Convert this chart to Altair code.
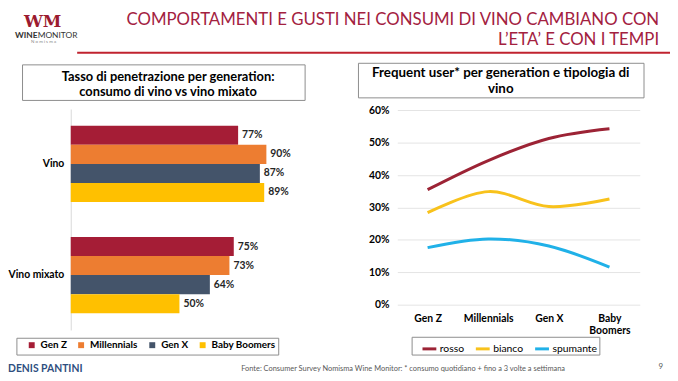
import altair as alt
import pandas as pd

# ---------------- data ----------------
bar_categories = ["Vino", "Vino mixato"]
generations = ["Gen Z", "Millennials", "Gen X", "Baby Boomers"]
vino_values = [0.77, 0.90, 0.87, 0.89]
vino_mixato_values = [0.75, 0.73, 0.64, 0.50]

wine_types = ["rosso", "bianco", "spumante"]
rosso_values = [0.355, 0.445, 0.513, 0.543]
bianco_values = [0.284, 0.349, 0.303, 0.326]
spumante_values = [0.176, 0.203, 0.181, 0.116]
line_y_ticks = [0.0, 0.1, 0.2, 0.3, 0.4, 0.5, 0.6]

bar_colors = ["#a51d36", "#ed7d31", "#44546a", "#ffc000"]
line_colors = ["#9c2335", "#f8c21c", "#20b1e8"]

FONT = "Lato"
TITLE_RED = "#a3213f"

bar_df = pd.DataFrame({
    "category": [c for c in bar_categories for _ in generations],
    "generation": generations * 2,
    "value": vino_values + vino_mixato_values,
})
line_df = pd.DataFrame({
    "generation": generations * 3,
    "type": [t for t in wine_types for _ in generations],
    "value": rosso_values + bianco_values + spumante_values,
})

one = alt.Data(values=[{}])

# ---------------- bar chart ----------------
bar_base = alt.Chart(bar_df).encode(
    x=alt.X("value:Q", scale=alt.Scale(domain=[0, 1], range=[63.5, 283.5]), axis=None),
    y=alt.Y(
        "category:N", sort=bar_categories,
        scale=alt.Scale(range=[100, 323.6], paddingInner=0.316, paddingOuter=0.151),
        axis=alt.Axis(title=None, orient="left", offset=-63.5, domainColor="#d9d9d9",
                      domainWidth=1, ticks=False, grid=False, labelFont=FONT,
                      labelFontSize=10.5, labelFontWeight="bold", labelColor="#000000",
                      labelPadding=7),
    ),
    yOffset=alt.YOffset("generation:N", sort=generations),
)
bars = bar_base.mark_bar().encode(
    color=alt.Color(
        "generation:N", sort=generations,
        scale=alt.Scale(domain=generations, range=bar_colors),
        legend=alt.Legend(title=None, orient="none", legendX=19, legendY=334,
                          direction="horizontal", columns=4, symbolType="square",
                          symbolSize=36, symbolStrokeWidth=0, labelFont=FONT,
                          labelFontSize=10, labelFontWeight="bold", labelColor="#000000",
                          labelOffset=4, columnPadding=9, padding=0),
    )
)
bar_labels = bar_base.mark_text(
    align="left", baseline="middle", dx=4, font=FONT, fontSize=10.5,
    fontWeight="bold", color="#262626"
).encode(text=alt.Text("value:Q", format=".0%"))
bar_layer = alt.layer(bars, bar_labels)

# ---------------- line chart ----------------
lines = alt.Chart(line_df).mark_line(interpolate="cardinal", strokeWidth=3).encode(
    x=alt.X(
        "generation:N", sort=generations,
        scale=alt.Scale(type="point", range=[394, 639.4], padding=0.5),
        axis=alt.Axis(title=None, orient="bottom", offset=-75, labelAngle=0, domain=False,
                      ticks=False, grid=False, labelFont=FONT, labelFontSize=10.5,
                      labelFontWeight="bold", labelColor="#000000", labelPadding=9,
                      labelLineHeight=12,
                      labelExpr="datum.label == 'Baby Boomers' ? ['Baby', 'Boomers'] : datum.label"),
    ),
    y=alt.Y(
        "value:Q",
        scale=alt.Scale(domain=[0, 0.6], range=[298, 101.3]),
        axis=alt.Axis(title=None, orient="left", offset=-393.7, values=line_y_ticks,
                      format=".0%", domain=False, ticks=False, grid=True,
                      gridColor="#e4e4e4", gridWidth=1, labelFont=FONT,
                      labelFontSize=10.5, labelFontWeight="bold", labelColor="#000000",
                      labelPadding=8),
    ),
    color=alt.Color(
        "type:N", sort=wine_types,
        scale=alt.Scale(domain=wine_types, range=line_colors),
        legend=alt.Legend(title=None, orient="none", legendX=418, legendY=334,
                          direction="horizontal", columns=3, symbolType="stroke",
                          symbolSize=196, symbolStrokeWidth=3, labelFont=FONT,
                          labelFontSize=10.5, labelColor="#000000", labelOffset=2,
                          columnPadding=5, padding=0),
    ),
)


# ---------------- decorations ----------------
def box(x1, x2, y1, y2, stroke="#8c8c8c"):
    return alt.Chart(one).mark_rect(fill="white", stroke=stroke, strokeWidth=1).encode(
        x=alt.value(x1), x2=alt.value(x2), y=alt.value(y1), y2=alt.value(y2))


def label(text, x, y, size, color="#000000", weight="normal", align="center", font=FONT):
    return alt.Chart(one).mark_text(
        text=text, align=align, baseline="middle", fontSize=size, fontWeight=weight,
        color=color, font=font).encode(x=alt.value(x), y=alt.value(y))


decor = [
    box(14.7, 300.7, 55.3, 91.3),
    box(354.7, 643.7, 53.7, 88.7),
    box(9, 274, 332, 349),
    box(409, 599, 331, 349),
    alt.Chart(one).mark_rule(color="#c0232f", strokeWidth=2).encode(
        x=alt.value(70), x2=alt.value(670), y=alt.value(43)),
    label("COMPORTAMENTI E GUSTI NEI CONSUMI DI VINO CAMBIANO CON", 659, 9.5, 17,
          TITLE_RED, "normal", "right"),
    label("L\u2019ETA\u2019 E CON I TEMPI", 659, 30, 17, TITLE_RED, "normal", "right"),
    label("WM", 35, 12, 17, "#9b1b30", "bold", "center", "DejaVu Serif"),
    label("WINE", 7, 25, 8.5, "#333333", "bold", "left"),
    label("MONITOR", 30, 25, 8.5, "#333333", "normal", "left"),
    label("N o m i s m a", 36, 32, 4.5, "#888888", "normal", "center"),
    label("Tasso di penetrazione per generation:", 162, 67.5, 13, "#000000", "bold"),
    label("consumo di vino vs vino mixato", 162, 83.2, 13, "#000000", "bold"),
    label("Frequent user* per generation e tipologia di", 498.7, 63.5, 13.5, "#000000", "bold"),
    label("vino", 498.7, 79.5, 13.5, "#000000", "bold"),
    label("DENIS PANTINI", 0, 363, 10.5, "#2f4f7f", "bold", "left"),
    label("Fonte: Consumer Survey Nomisma Wine Monitor: * consumo quotidiano + fino a 3 volte a settimana",
          236, 363, 7.5, "#595959", "normal", "left"),
    label("9", 663, 361, 8, "#595959", "normal", "right"),
]

chart = alt.layer(*decor[:4], bar_layer, lines, *decor[4:]).resolve_scale(
    x="independent", y="independent", color="independent"
).properties(
    width=670, height=373, padding=0,
    autosize=alt.AutoSizeParams(type="none"),
    background="white",
).configure_view(strokeWidth=0)

chart.save("out.html", embed_options={"renderer": "svg", "actions": False})
